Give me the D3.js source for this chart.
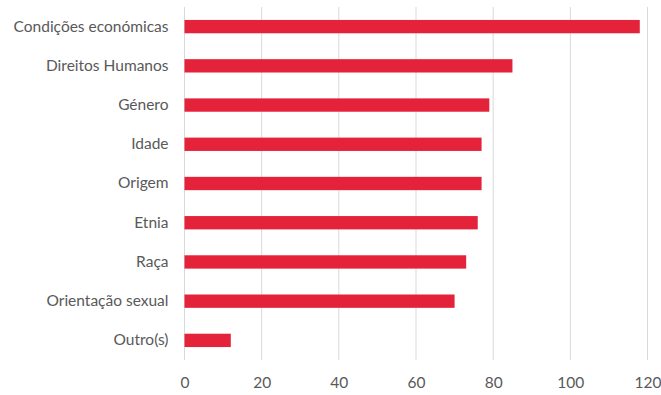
<!DOCTYPE html>
<html>
<head>
<meta charset="utf-8">
<script src="https://cdn.jsdelivr.net/npm/d3@7"></script>
<style>
  html, body { margin: 0; padding: 0; background: #fff; }
  svg text { font-family: Lato, "Open Sans", sans-serif; fill: #595959; }
</style>
</head>
<body>
<svg id="chart" width="661" height="395"></svg>
<script>
const categories = [
  "Condições económicas",
  "Direitos Humanos",
  "Género",
  "Idade",
  "Origem",
  "Etnia",
  "Raça",
  "Orientação sexual",
  "Outro(s)"
];
const values = [118, 85, 79, 77, 77, 76, 73, 70, 12];
const xTicks = [0, 20, 40, 60, 80, 100, 120];

const svg = d3.select("#chart");
const margin = { top: 7, right: 13.5, bottom: 35, left: 184.5 };
const width = 661 - margin.left - margin.right;
const height = 395 - margin.top - margin.bottom;

const g = svg.append("g").attr("transform", `translate(${margin.left},${margin.top})`);

const x = d3.scaleLinear().domain([0, 120]).range([0, width]);
const y = d3.scaleBand().domain(categories).range([0, height]).paddingInner(0.66).paddingOuter(0.33);

// vertical gridlines
g.selectAll("line.grid")
  .data(xTicks)
  .join("line")
  .attr("class", "grid")
  .attr("x1", d => x(d)).attr("x2", d => x(d))
  .attr("y1", 0).attr("y2", height)
  .attr("stroke", "#d9d9d9")
  .attr("stroke-width", 1);

// bars
g.selectAll("rect.bar")
  .data(values)
  .join("rect")
  .attr("class", "bar")
  .attr("x", x(0))
  .attr("y", (d, i) => y(categories[i]))
  .attr("width", d => x(d) - x(0))
  .attr("height", y.bandwidth())
  .attr("fill", "#E4233B");

// x axis labels
const xAxis = d3.axisBottom(x).tickValues(xTicks).tickSize(0).tickPadding(17);
const xg = g.append("g").attr("transform", `translate(0,${height})`).call(xAxis);
xg.select(".domain").remove();
xg.selectAll("text").style("font-size", "15.5px").attr("fill", "#595959");

// category labels
const yAxis = d3.axisLeft(y).tickSize(0).tickPadding(16);
const yg = g.append("g").call(yAxis);
yg.select(".domain").remove();
yg.selectAll("text").style("font-size", "15.5px").attr("fill", "#595959");
</script>
</body>
</html>
